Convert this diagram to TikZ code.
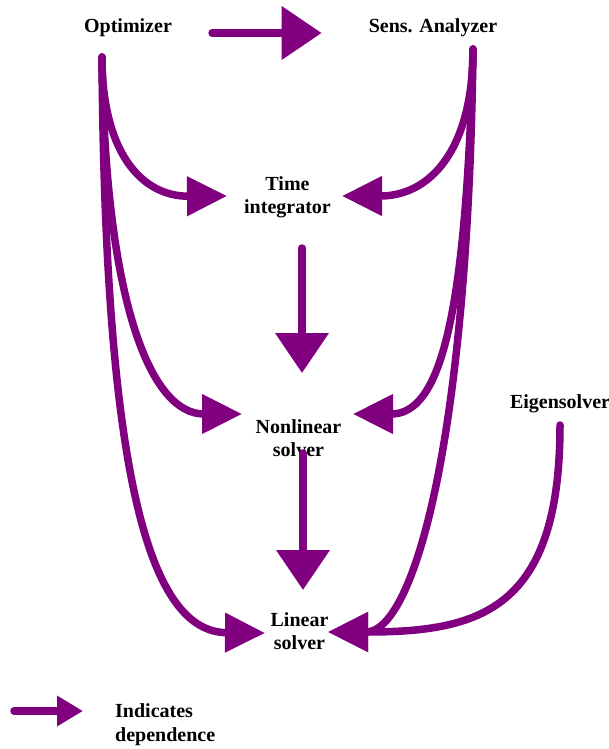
\documentclass[tikz,border=0pt]{standalone}
\usepackage{fontspec}
\setmainfont{Liberation Serif}
\usetikzlibrary{arrows.meta}
\definecolor{deppurple}{HTML}{800080}
\begin{document}
\begin{tikzpicture}[x=1pt,y=-1pt,
  lbl/.style={font=\fontsize{20}{23.5}\selectfont\bfseries, align=center, inner sep=0pt},
  link/.style={draw=deppurple, line width=7.5pt, line cap=round,
    -{Triangle[length=40pt,width=38pt]}},
  biglink/.style={link, -{Triangle[length=40pt,width=52pt]}},
  keylink/.style={link, -{Triangle[length=26pt,width=29pt]}}]
\useasboundingbox (0,0) rectangle (609,749);

% components
\node[lbl] (opt)    at (128,27.5)  {Optimizer};
\node[lbl] (sens)   at (433,27.5)  {Sens. Analyzer};
\node[lbl] (time)   at (287.5,197.5) {Time\\integrator};
\node[lbl] (nonlin) at (298.5,438) {Nonlinear\\solver};
\node[lbl] (lin)    at (299.5,631) {Linear\\solver};
\node[lbl] (eig)    at (560,403.5) {Eigensolver};
\node[lbl, align=left, anchor=west] (key) at (115,724.5) {Indicates\\dependence};

% where the curved dependence lines leave their sources
\coordinate (optFoot)  at (102,57);
\coordinate (sensFoot) at (473,49);
\coordinate (eigFoot)  at (560,425);

% optimizer drives the sensitivity analyzer
\draw[biglink] ([shift={(40,5.5)}]opt.east) -- ([shift={(-47,5.5)}]sens.west);

% optimizer dependencies
\draw[link] (optFoot) .. controls (102,150) and (140,196.5) .. ([shift={(-60.5,-1.5)}]time.center);
\draw[link] (optFoot) .. controls (105,300) and (150,414) .. ([shift={(-56.5,-24)}]nonlin.center);
\draw[link] (optFoot) .. controls (105,480) and (150,632) .. ([shift={(-34.5,2)}]lin.center);

% sensitivity analyzer dependencies
\draw[link] (sensFoot) .. controls (473,150) and (430,196) .. ([shift={(54.5,-1.5)}]time.center);
\draw[link] (sensFoot) .. controls (466,320) and (440,414) .. ([shift={(54.5,-24)}]nonlin.center);
\draw[link] (sensFoot) .. controls (468,450) and (412,632) .. ([shift={(28.5,1)}]lin.center);

% eigensolver uses the linear solver
\draw[link] (eigFoot) .. controls (560,610) and (480,632) .. ([shift={(28.5,1)}]lin.center);

% solver chain
\draw[biglink] ([shift={(14.5,50.5)}]time.center) -- ([shift={(3.5,-65)}]nonlin.center);
\draw[biglink] ([shift={(4.5,15)}]nonlin.center) -- ([shift={(3.5,-41)}]lin.center);

% legend
\draw[keylink] ([shift={(-101,-13.5)}]key.west) -- ([shift={(-32,-13.5)}]key.west);
\end{tikzpicture}
\end{document}
